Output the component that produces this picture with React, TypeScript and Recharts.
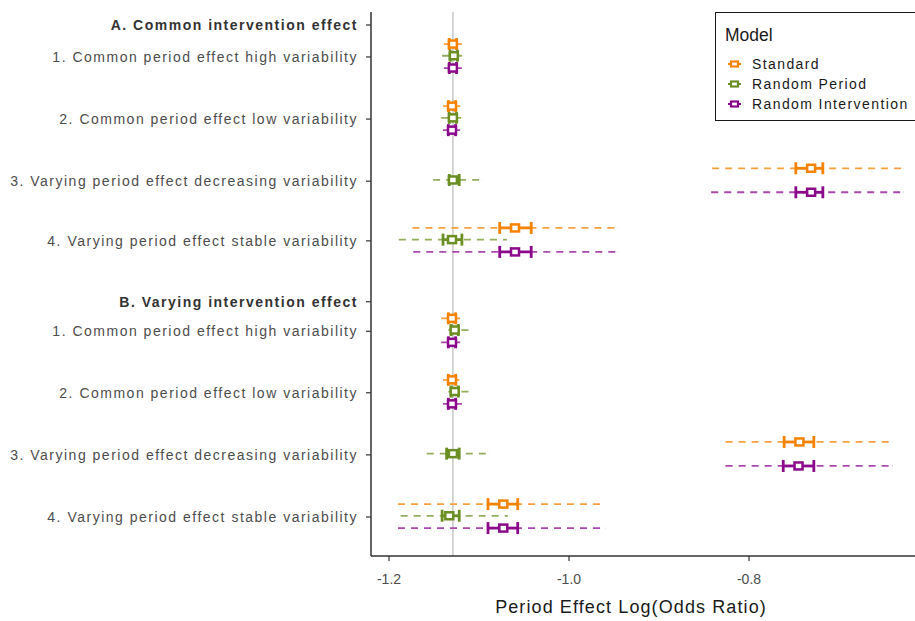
import React from "react"
import { ScatterChart, Scatter, ErrorBar, XAxis, YAxis, ReferenceLine } from "recharts"

// y axis rows (row units, top to bottom)
const rowLabels = [
  "A. Common intervention effect",
  "1. Common period effect high variability",
  "2. Common period effect low variability",
  "3. Varying period effect decreasing variability",
  "4. Varying period effect stable variability",
  "B. Varying intervention effect",
  "1. Common period effect high variability",
  "2. Common period effect low variability",
  "3. Varying period effect decreasing variability",
  "4. Varying period effect stable variability",
]
const rowPos = [0, 0.52, 1.53, 2.54, 3.51, 4.5, 4.98, 5.98, 6.99, 8.0]
const headerRows = [0, 5]
const studyRows = [0.52, 1.53, 2.54, 3.51, 4.98, 5.98, 6.99, 8.0]

const xTicks = [-1.2, -1.0, -0.8]
const overallEffect = -1.129

// Standard
const stdEst = [-1.129, -1.13, -0.731, -1.06, -1.13, -1.13, -0.744, -1.073]
const stdCiLo = [-1.133, -1.134, -0.748, -1.077, -1.134, -1.134, -0.761, -1.09]
const stdCiHi = [-1.125, -1.126, -0.718, -1.042, -1.126, -1.126, -0.728, -1.057]
const stdPiLo = [-1.139, -1.14, -0.841, -1.174, -1.142, -1.14, -0.826, -1.19]
const stdPiHi = [-1.119, -1.121, -0.629, -0.946, -1.121, -1.122, -0.641, -0.96]

// Random Period
const rpEst = [-1.128, -1.129, -1.129, -1.13, -1.127, -1.127, -1.129, -1.133]
const rpCiLo = [-1.132, -1.133, -1.133, -1.14, -1.131, -1.131, -1.136, -1.141]
const rpCiHi = [-1.124, -1.125, -1.122, -1.119, -1.123, -1.123, -1.122, -1.122]
const rpPiLo = [-1.141, -1.142, -1.151, -1.189, -1.134, -1.134, -1.158, -1.187]
const rpPiHi = [-1.117, -1.118, -1.096, -1.069, -1.111, -1.111, -1.088, -1.068]

// Random Intervention
const riEst = [-1.129, -1.13, -0.731, -1.06, -1.13, -1.13, -0.745, -1.073]
const riCiLo = [-1.133, -1.134, -0.748, -1.077, -1.134, -1.134, -0.762, -1.09]
const riCiHi = [-1.125, -1.126, -0.718, -1.042, -1.126, -1.126, -0.728, -1.057]
const riPiLo = [-1.139, -1.14, -0.842, -1.173, -1.142, -1.14, -0.826, -1.19]
const riPiHi = [-1.119, -1.121, -0.629, -0.946, -1.121, -1.119, -0.641, -0.96]

const models = [
  { name: "Standard", color: "#F58200", dash: "#F7A040", dodge: -0.21, est: stdEst, ciLo: stdCiLo, ciHi: stdCiHi, piLo: stdPiLo, piHi: stdPiHi },
  { name: "Random Period", color: "#6B8E23", dash: "#93AE5C", dodge: -0.02, est: rpEst, ciLo: rpCiLo, ciHi: rpCiHi, piLo: rpPiLo, piHi: rpPiHi },
  { name: "Random Intervention", color: "#8B0A8B", dash: "#A848A8", dodge: 0.18, est: riEst, ciLo: riCiLo, ciHi: riCiHi, piLo: riPiLo, piHi: riPiHi },
]

const buildData = (m: (typeof models)[number]) =>
  studyRows.map((pos, i) => ({
    x: m.est[i],
    y: pos + m.dodge,
    ci: [m.est[i] - m.ciLo[i], m.ciHi[i] - m.est[i]],
    pi: [m.est[i] - m.piLo[i], m.piHi[i] - m.est[i]],
  }))

const FONT = "'Liberation Sans', Arial, sans-serif"

const YTick = (props: any) => {
  const { x, y, payload } = props
  const i = rowPos.findIndex((p) => Math.abs(p - payload.value) < 1e-6)
  const header = headerRows.includes(i)
  return (
    <text
      x={x}
      y={y}
      dy={5}
      textAnchor="end"
      fontFamily={FONT}
      fontSize={14}
      letterSpacing={1.5}
      fontWeight={header ? 700 : 400}
      fill={header ? "#333333" : "#4D4D4D"}
    >
      {rowLabels[i]}
    </text>
  )
}

const PointBox = (color: string) => (props: any) => {
  const { cx, cy } = props
  if (cx == null || cy == null) return <g />
  return (
    <rect x={cx - 4} y={cy - 3.5} width={8} height={7} fill="#FFFFFF" stroke={color} strokeWidth={2.5} />
  )
}

function LegendBox() {
  return (
    <div
      style={{
        position: "absolute",
        left: 715,
        top: 12,
        width: 210,
        height: 109,
        border: "1.5px solid #1A1A1A",
        background: "#FFFFFF",
        fontFamily: FONT,
        boxSizing: "border-box",
      }}
    >
      <div style={{ position: "absolute", left: 9, top: 12, fontSize: 17.5, color: "#1A1A1A" }}>Model</div>
      {models.map((m, i) => (
        <div key={m.name} style={{ position: "absolute", left: 9, top: 42 + i * 20, height: 18, display: "flex", alignItems: "center" }}>
          <svg width={20} height={14}>
            <line x1={3} y1={7} x2={16} y2={7} stroke={m.color} strokeWidth={2} />
            <rect x={6} y={4.5} width={7} height={5} fill="#FFFFFF" stroke={m.color} strokeWidth={2.2} />
          </svg>
          <span style={{ marginLeft: 7, fontSize: 14, letterSpacing: 1.4, color: "#1A1A1A" }}>{m.name}</span>
        </div>
      ))}
    </div>
  )
}

export default function App() {
  return (
    <div style={{ position: "absolute", left: 0, top: 0, width: 915, height: 621, overflow: "hidden", background: "#FFFFFF" }}>
      <ScatterChart width={915} height={621} margin={{ top: 12, right: 0, bottom: 0, left: 0 }} style={{ fontFamily: FONT }}>
        <XAxis
          type="number"
          dataKey="x"
          domain={[-1.22, -0.6156]}
          ticks={xTicks}
          allowDataOverflow
          height={65}
          tickSize={5}
          tickMargin={13}
          tickFormatter={(v: number) => v.toFixed(1)}
          tick={{ fill: "#4D4D4D", fontSize: 14 }}
          axisLine={{ stroke: "#333333", strokeWidth: 1.5 }}
          tickLine={{ stroke: "#333333", strokeWidth: 1.2 }}
          label={{ value: "Period Effect Log(Odds Ratio)", position: "insideBottom", offset: 8, dx: -12, fill: "#1A1A1A", fontSize: 18, letterSpacing: 1.1 }}
        />
        <YAxis
          type="number"
          dataKey="y"
          reversed
          domain={[-0.211, 8.634]}
          ticks={rowPos}
          allowDataOverflow
          interval={0}
          width={371}
          tickSize={5}
          tickMargin={8}
          tick={<YTick />}
          axisLine={{ stroke: "#333333", strokeWidth: 1.5 }}
          tickLine={{ stroke: "#333333", strokeWidth: 1.2 }}
        />
        <ReferenceLine x={overallEffect} stroke="#C8C8C8" strokeWidth={1.5} />
        {models.map((m) => (
          <Scatter
            key={m.name}
            name={m.name}
            data={buildData(m)}
            fill={m.color}
            shape={PointBox(m.color)}
            isAnimationActive={false}
          >
            <ErrorBar dataKey="pi" direction="x" width={0} stroke={m.dash} strokeWidth={1.8} strokeDasharray="7 6" />
            <ErrorBar dataKey="ci" direction="x" width={6} stroke={m.color} strokeWidth={2.8} />
          </Scatter>
        ))}
      </ScatterChart>
      <LegendBox />
    </div>
  )
}
